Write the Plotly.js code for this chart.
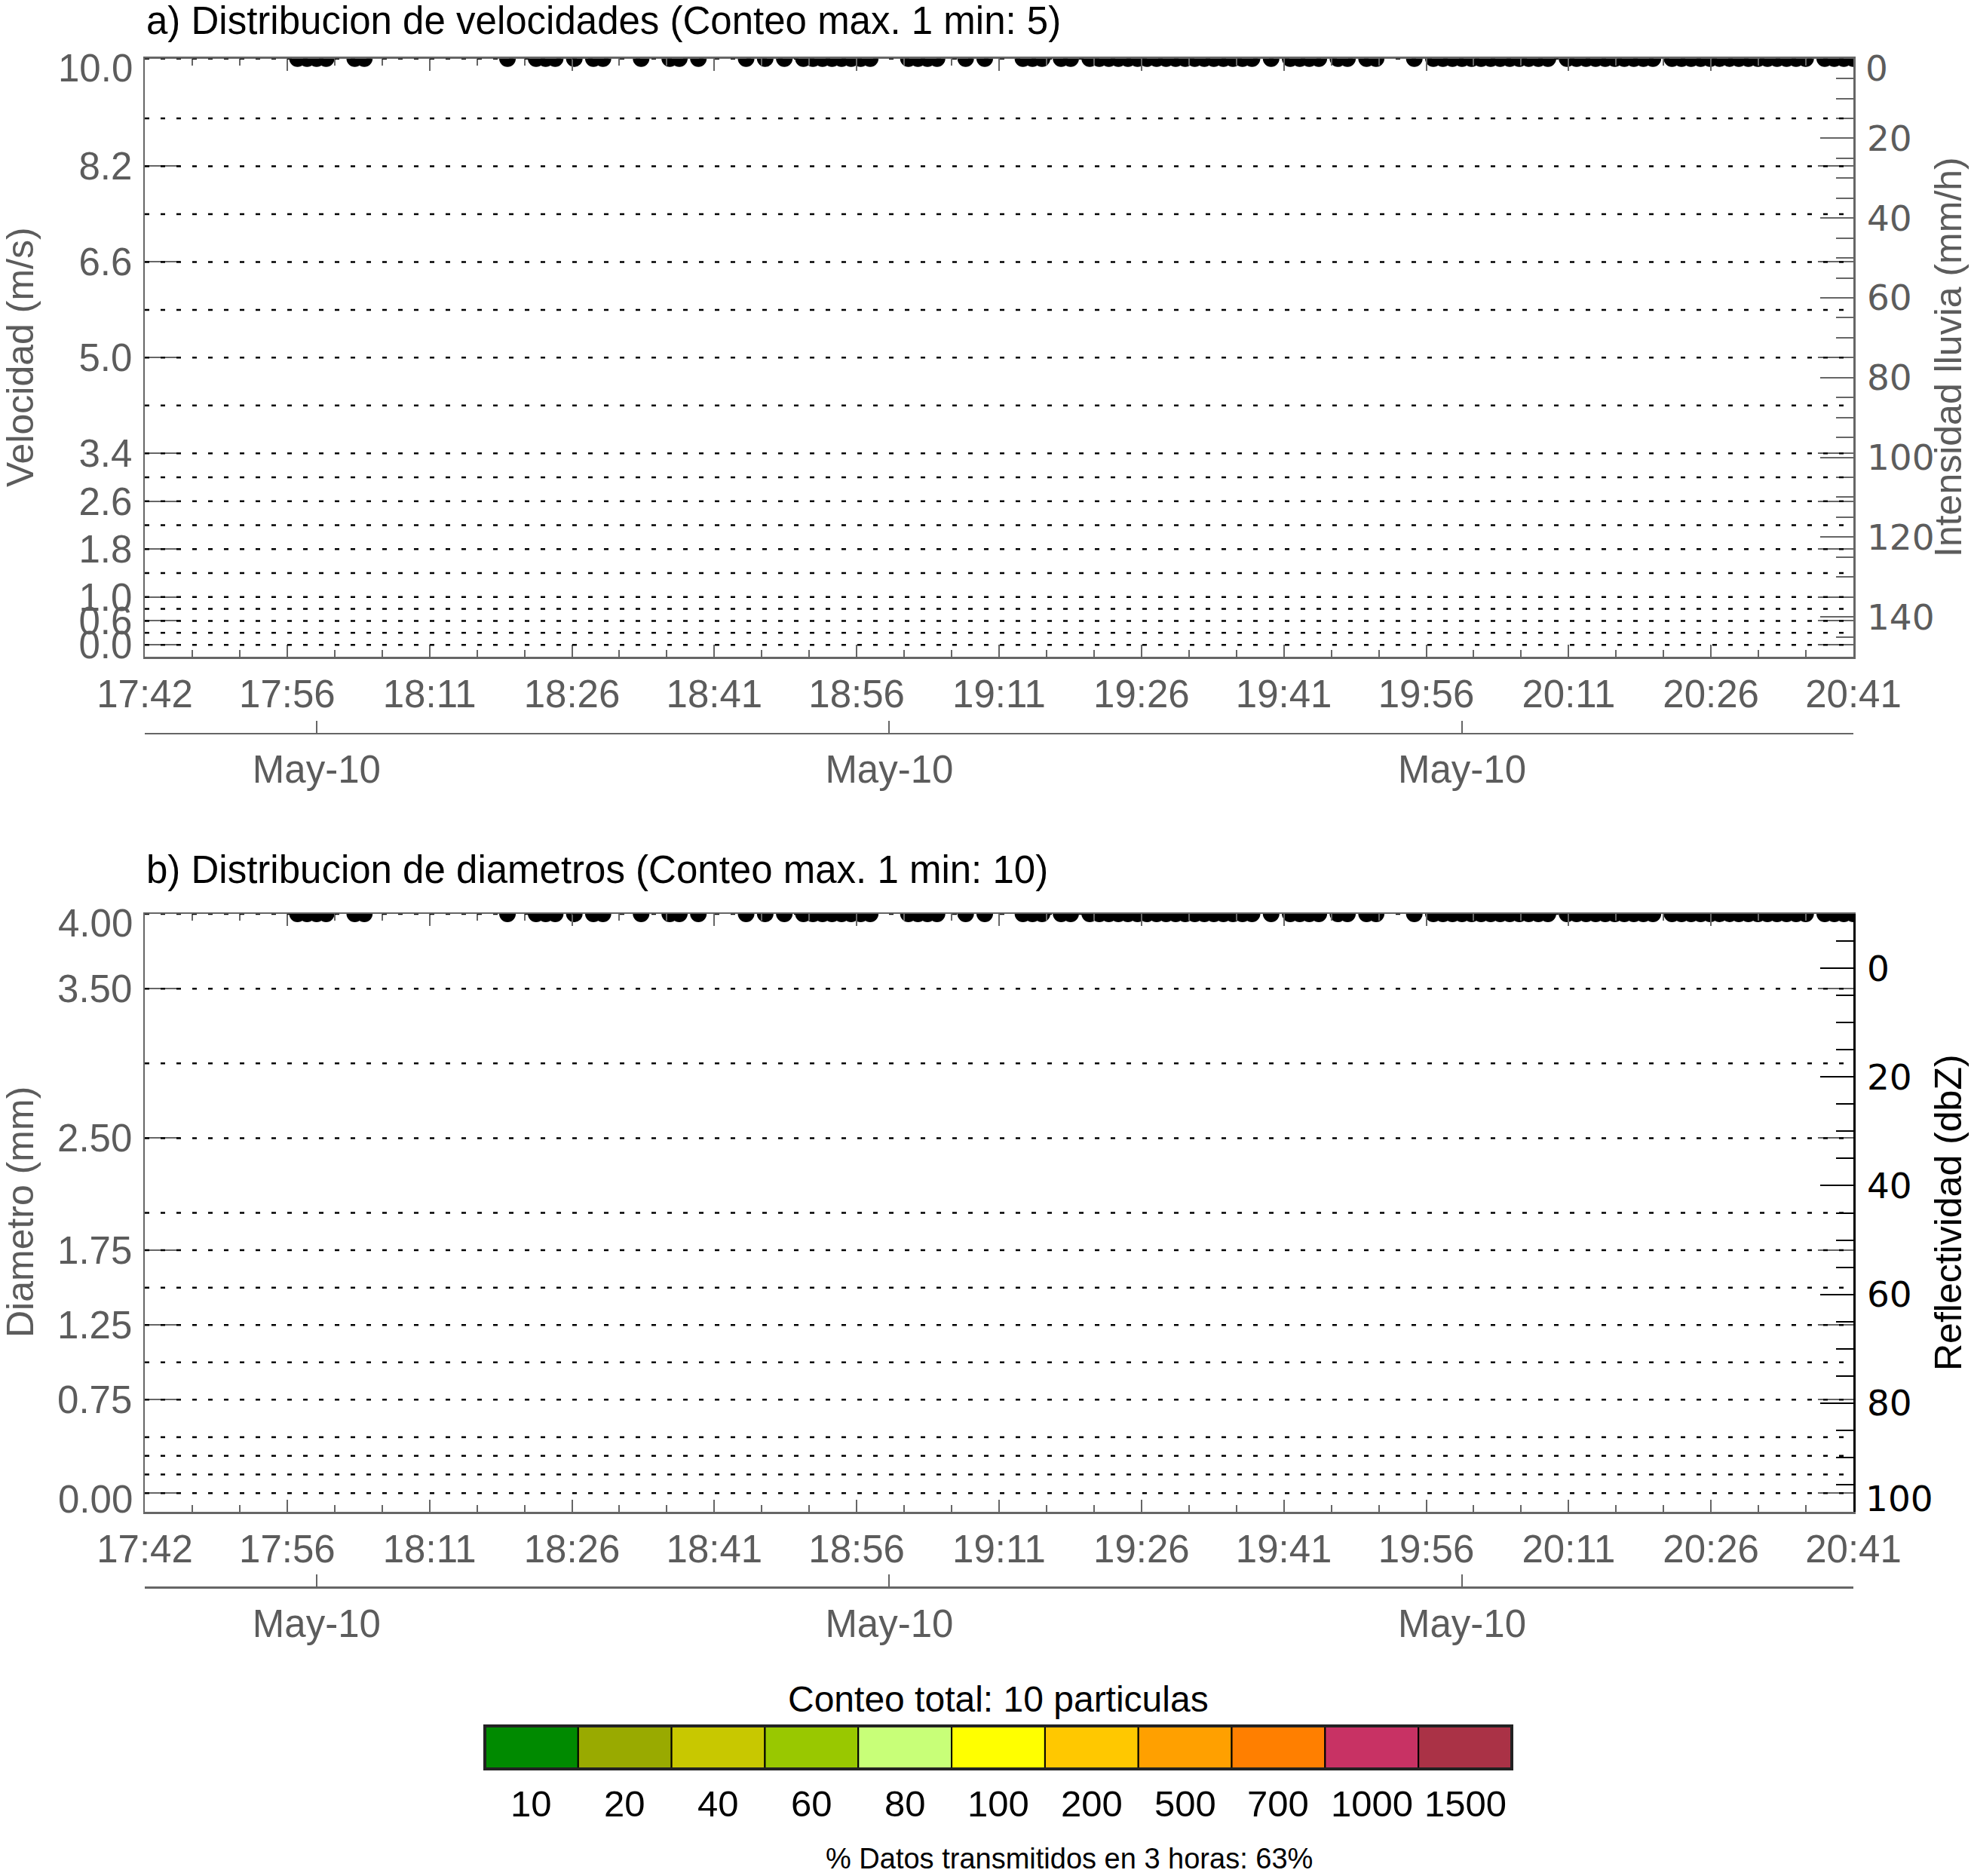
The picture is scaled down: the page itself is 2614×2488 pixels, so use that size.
<!DOCTYPE html>
<html><head><meta charset="utf-8">
<script src="https://cdn.plot.ly/plotly-3.0.1.min.js"></script>
<style>html,body{margin:0;padding:0;background:#fff}#chart{width:2614px;height:2488px}</style>
</head><body><div id="chart"></div>
<script>
// ---------------- data ----------------
const timeTickText = ['17:42','17:56','18:11','18:26','18:41','18:56','19:11','19:26','19:41','19:56','20:11','20:26','20:41'];
const startTime = '17:42';
const endTime = '20:41';
const dateTickTimes = ['18:00','19:00','20:00'];
const dateTickText = ['May-10','May-10','May-10'];

// velocity classes (bin index axis)
const velTickText = ['0.0','0.6','1.0','1.8','2.6','3.4','5.0','6.6','8.2','10.0'];
const velTickIdx  = [1,3,5,9,13,17,25,33,41,50];
const velGridIdx  = [1,2,3,4,5,7,9,11,13,15,17,21,25,29,33,37,41,45,50];
// diameter classes (bin index axis)
const diamTickText = ['0.00','0.75','1.25','1.75','2.50','3.50','4.00'];
const diamTickIdx  = [1,6,10,14,20,28,32];
const diamGridIdx  = [1,2,3,4,6,8,10,12,14,16,20,24,28,32];
// right axes
const rainTickVals = [0,20,40,60,80,100,120,140];
const rainTickText = ['0','20','40','60','80','100','120','140'];
const dbzTickVals = [0,20,40,60,80,100];
const dbzTickText = ['0','20','40','60','80','100'];

// minutes after 17:42 with transmitted data
const obsMinute = [16,17,18,19,22,23,38,41,42,43,45,47,48,52,55,56,58,63,65,67,
  69,70,71,72,73,74,75,76,80,81,82,83,86,88,92,93,94,96,97,
  99,100,101,102,103,104,105,106,107,108,109,110,111,112,113,114,115,116,
  118,120,121,122,123,125,126,128,129,133,
  135,136,137,138,139,140,141,142,143,144,145,146,147,
  149,150,151,152,153,154,155,156,157,158,
  160,161,162,163,164,165,166,167,168,169,170,171,172,173,174,
  176,177,178,179];
const rainRate = [0,0,0,0,0,0,0,0,0,0, 0,0,0,0,0,0,0,0,0,0, 0,0,0,0,0,0,0,0,0,0,
  0,0,0,0,0,0,0,0,0,0, 0,0,0,0,0,0,0,0,0,0, 0,0,0,0,0,0,0,0,0,0,
  0,0,0,0,0,0,0,0,0,0, 0,0,0,0,0,0,0,0,0,0, 0,0,0,0,0,0,0,0,0,0,
  0,0,0,0,0,0,0,0,0,0, 0,0,0,0,0,0,0,0,0];
const reflectivity = [-10,-10,-10,-10,-10,-10,-10,-10,-10,-10, -10,-10,-10,-10,-10,-10,-10,-10,-10,-10,
  -10,-10,-10,-10,-10,-10,-10,-10,-10,-10, -10,-10,-10,-10,-10,-10,-10,-10,-10,-10,
  -10,-10,-10,-10,-10,-10,-10,-10,-10,-10, -10,-10,-10,-10,-10,-10,-10,-10,-10,-10,
  -10,-10,-10,-10,-10,-10,-10,-10,-10,-10, -10,-10,-10,-10,-10,-10,-10,-10,-10,-10,
  -10,-10,-10,-10,-10,-10,-10,-10,-10,-10, -10,-10,-10,-10,-10,-10,-10,-10,-10,-10,
  -10,-10,-10,-10,-10,-10,-10,-10,-10];

const countLabels = ['10','20','40','60','80','100','200','500','700','1000','1500'];
const countColors = ['#008a00','#99aa00','#c8c800','#99c800','#c8ff78','#ffff00','#ffc800','#ffa000','#ff7f00','#c83264','#aa3246'];
const totalCount = 10;
const pctTransmitted = 63;
const maxCountVel = 5, maxCountDiam = 10;

// ---------------- layout helpers ----------------
const W = 2614, H = 2488;
const px = x => x / W, py = y => 1 - y / H;
const toMin = t => { const [h, m] = t.split(':').map(Number); const [h0, m0] = startTime.split(':').map(Number); return h*60+m-(h0*60+m0); };
const xMax = toMin(endTime);
const timeTickVals = timeTickText.map((_, i) => i * xMax / (timeTickText.length - 1));
const dateTickVals = dateTickTimes.map(toMin);

const FONT = 'Liberation Sans, Arial, Helvetica, sans-serif';
const RFONT = 'DejaVu Sans, Liberation Sans, sans-serif';
const GRAY = '#666666', TXT = '#5c5c5c';
const TS = 51, RS = 47;
const L = 192, R = 2458;
const A = {top: 77.7, bot: 871}, B = {top: 1212, bot: 2005};

// labels at the frame ends are drawn shifted inward (as in the source chart)
const blankAt = (text, k) => text.map((t, i) => i === k ? '' : t);

function xAxis(domainAnchor) {
  return {
    domain: [px(L), px(R)], anchor: domainAnchor, range: [0, xMax],
    tickmode: 'array', tickvals: timeTickVals, ticktext: timeTickText,
    ticks: 'inside', ticklen: 16, tickwidth: 2, tickcolor: GRAY,
    minor: {tickmode: 'linear', tick0: 0, dtick: xMax / 36, ticks: 'inside', ticklen: 9, tickwidth: 2, tickcolor: GRAY, showgrid: false},
    showline: true, linecolor: GRAY, linewidth: 2.5, mirror: 'ticks',
    showgrid: false, zeroline: false, ticklabelstandoff: 3,
    tickfont: {family: FONT, size: TS, color: TXT}
  };
}
function dateAxis(over, posY) {
  return {
    overlaying: over, anchor: 'free', position: py(posY), side: 'bottom', range: [0, xMax],
    tickmode: 'array', tickvals: dateTickVals, ticktext: dateTickText,
    ticks: 'inside', ticklen: 16, tickwidth: 2, tickcolor: GRAY,
    showline: true, linecolor: GRAY, linewidth: 2.5,
    showgrid: false, zeroline: false, ticklabelstandoff: 3,
    tickfont: {family: FONT, size: TS, color: TXT}
  };
}
function leftAxis(p, rng, vals, text, anchor) {
  return {
    domain: [py(p.bot), py(p.top)], anchor: anchor, range: rng,
    tickmode: 'array', tickvals: vals, ticktext: text,
    ticks: 'inside', ticklen: 47, tickwidth: 2, tickcolor: GRAY,
    showline: true, linecolor: GRAY, linewidth: 2.5, mirror: 'ticks',
    showgrid: false, zeroline: false, ticklabelstandoff: 4,
    tickfont: {family: FONT, size: TS, color: TXT}
  };
}
function rightAxis(over, anchor, rng, vals, text, col, tcol) {
  return {
    overlaying: over, anchor: anchor, side: 'right', range: rng,
    tickmode: 'array', tickvals: vals, ticktext: text,
    ticks: 'inside', ticklen: 44, tickwidth: 2, tickcolor: tcol,
    minor: {tickmode: 'linear', tick0: 0, dtick: 5, ticks: 'inside', ticklen: 23, tickwidth: 2, tickcolor: tcol, showgrid: false},
    showline: true, linecolor: tcol, linewidth: 2.5,
    showgrid: false, zeroline: false, ticklabelstandoff: 6,
    tickfont: {family: RFONT, size: RS, color: col}
  };
}

const traces = [
  {x: obsMinute, y: rainRate, xaxis: 'x', yaxis: 'y2', type: 'scatter', mode: 'markers',
   marker: {size: 22, color: '#000'}, cliponaxis: true, showlegend: false, hoverinfo: 'skip'},
  {x: [], y: [], xaxis: 'x', yaxis: 'y', type: 'scatter', mode: 'markers', showlegend: false},
  {x: [], y: [], xaxis: 'x3', yaxis: 'y', type: 'scatter', mode: 'markers', showlegend: false},
  {x: obsMinute, y: reflectivity, xaxis: 'x2', yaxis: 'y4', type: 'scatter', mode: 'markers',
   marker: {size: 22, color: '#000'}, cliponaxis: true, showlegend: false, hoverinfo: 'skip'},
  {x: [], y: [], xaxis: 'x2', yaxis: 'y3', type: 'scatter', mode: 'markers', showlegend: false},
  {x: [], y: [], xaxis: 'x4', yaxis: 'y3', type: 'scatter', mode: 'markers', showlegend: false}
];

const shapes = [];
const dotted = {color: '#000', width: 2.5, dash: '6px,15px'};
velGridIdx.forEach(v => shapes.push({type: 'line', xref: 'paper', yref: 'y', x0: px(L), x1: px(R), y0: v, y1: v, line: dotted, layer: 'above'}));
diamGridIdx.forEach(v => shapes.push({type: 'line', xref: 'paper', yref: 'y3', x0: px(L), x1: px(R), y0: v, y1: v, line: dotted, layer: 'above'}));

// count legend (colour key)
const keyL = 643, keyR = 2005, keyT = 2289, keyB = 2346;
const cw = (keyR - keyL) / countColors.length;
const annotations = [];
countColors.forEach((c, i) => {
  shapes.push({type: 'rect', xref: 'paper', yref: 'paper', x0: px(keyL + i*cw), x1: px(keyL + (i+1)*cw), y0: py(keyB), y1: py(keyT),
    fillcolor: c, line: {color: '#000', width: 2}});
  annotations.push({xref: 'paper', yref: 'paper', x: px(keyL + (i+0.5)*cw), y: py(2392), text: countLabels[i], showarrow: false,
    xanchor: 'center', yanchor: 'middle', font: {family: FONT, size: 49, color: '#000'}});
});
shapes.push({type: 'rect', xref: 'paper', yref: 'paper', x0: px(keyL), x1: px(keyR), y0: py(keyB), y1: py(keyT), line: {color: '#222', width: 4}});

const ann = (x, y, text, size, color, extra) => Object.assign({xref: 'paper', yref: 'paper', x: px(x), y: py(y), text: text, showarrow: false,
  xanchor: 'center', yanchor: 'middle', font: {family: FONT, size: size, color: color}}, extra || {});
annotations.push(
  ann(L, 28, 'a) Distribucion de velocidades (Conteo max. 1 min: ' + maxCountVel + ')', 51, '#000', {xanchor: 'left'}),
  ann(L, 1153, 'b) Distribucion de diametros (Conteo max. 1 min: ' + maxCountDiam + ')', 51, '#000', {xanchor: 'left'}),
  ann(27, 474, 'Velocidad (m/s)', 50, TXT, {textangle: -90}),
  ann(2584, 474, 'Intensidad lluvia (mm/h)', 50, TXT, {textangle: -90}),
  ann(27, 1608, 'Diametro (mm)', 50, TXT, {textangle: -90}),
  ann(2584, 1608, 'Reflectividad (dbZ)', 50, '#000', {textangle: -90}),
  ann(1324, 2253, 'Conteo total: ' + totalCount + ' particulas', 48, '#000'),
  ann(1418, 2465, '% Datos transmitidos en 3 horas: ' + pctTransmitted + '%', 38, '#000'),
  // end labels, shifted inside the frame
  ann(178, 91, velTickText[velTickText.length - 1], TS, TXT, {xanchor: 'right'}),
  ann(178, 1224, diamTickText[diamTickText.length - 1], TS, TXT, {xanchor: 'right'}),
  ann(178, 1988, diamTickText[0], TS, TXT, {xanchor: 'right'}),
  ann(2472, 91, rainTickText[0], RS, TXT, {xanchor: 'left', font: {family: RFONT, size: RS, color: TXT}}),
  ann(2472, 1987, dbzTickText[dbzTickText.length - 1], RS, '#000', {xanchor: 'left', font: {family: RFONT, size: RS, color: '#000'}})
);

const layout = {
  width: W, height: H, margin: {l: 0, r: 0, t: 0, b: 0},
  paper_bgcolor: '#fff', plot_bgcolor: '#fff', showlegend: false,
  font: {family: FONT},
  xaxis: xAxis('y'),
  xaxis2: xAxis('y3'),
  xaxis3: dateAxis('x', 972.7),
  xaxis4: dateAxis('x2', 2105),
  yaxis: leftAxis(A, [0, 50], velTickIdx, blankAt(velTickText, velTickText.length - 1), 'x'),
  yaxis2: rightAxis('y', 'x', [150, 0], rainTickVals, blankAt(rainTickText, 0), TXT, GRAY),
  yaxis3: leftAxis(B, [0, 32], diamTickIdx, blankAt(blankAt(diamTickText, diamTickText.length - 1), 0), 'x2'),
  yaxis4: rightAxis('y3', 'x2', [100, -10], dbzTickVals, blankAt(dbzTickText, dbzTickText.length - 1), '#000', '#000'),
  shapes: shapes, annotations: annotations
};

Plotly.newPlot('chart', traces, layout, {staticPlot: true, displayModeBar: false});
</script></body></html>
